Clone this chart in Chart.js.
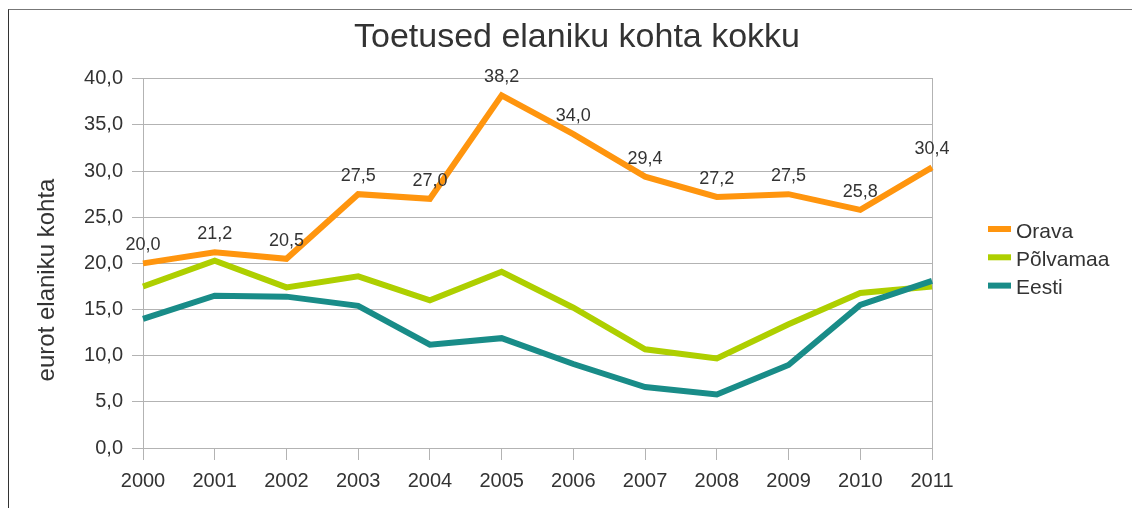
<!DOCTYPE html>
<html>
<head>
<meta charset="utf-8">
<script src="https://cdn.jsdelivr.net/npm/chart.js@4"></script>
<style>
html,body{margin:0;padding:0;background:#fff;}
#wrap{position:relative;width:1132px;height:508px;overflow:hidden;}
#frame{position:absolute;left:8px;top:9px;width:1200px;height:600px;border-left:1px solid #333;border-top:1px solid #777;}
canvas{position:absolute;left:0;top:0;}
</style>
</head>
<body>
<div id="wrap">
<div id="frame"></div>
<canvas id="chart" width="1132" height="508"></canvas>
</div>
<script>
const years = ["2000","2001","2002","2003","2004","2005","2006","2007","2008","2009","2010","2011"];
const orava = [20.0,21.2,20.5,27.5,27.0,38.2,34.0,29.4,27.2,27.5,25.8,30.4];
const polvamaa = [17.5,20.3,17.4,18.6,16.0,19.1,15.2,10.7,9.7,13.4,16.8,17.5];
const eesti = [14.0,16.5,16.4,15.4,11.2,11.9,9.1,6.6,5.8,9.0,15.5,18.1];
const yTicks = [0,5,10,15,20,25,30,35,40];

const FONT = "'Liberation Sans', Arial, sans-serif";
const TXT = "#333333";
const GRID = "#b3b3b3";

function comma(v){
return v.toFixed(1).replace(".", ",");
}

// labels above Orava points, y-axis title and legend on the right
const extras = {
id:"extras",
afterDatasetsDraw(chart){
const ctx = chart.ctx;
ctx.save();
ctx.fillStyle = TXT;
ctx.font = "18px " + FONT;
ctx.textAlign = "center";
ctx.textBaseline = "middle";
chart.getDatasetMeta(0).data.forEach((pt, i) => {
ctx.fillText(comma(orava[i]), pt.x, pt.y - 18);
});
ctx.restore();
},
afterDraw(chart){
const ctx = chart.ctx;
ctx.save();
ctx.fillStyle = TXT;
ctx.font = "24px " + FONT;
ctx.textAlign = "center";
ctx.textBaseline = "middle";
ctx.translate(47, 280);
ctx.rotate(-Math.PI / 2);
ctx.fillText("eurot elaniku kohta", 0, 0);
ctx.restore();

ctx.save();
ctx.font = "21px " + FONT;
ctx.textBaseline = "middle";
ctx.textAlign = "left";
chart.data.datasets.forEach((ds, i) => {
const y = 229 + i * 28.3;
ctx.fillStyle = ds.borderColor;
ctx.fillRect(988, y - 3, 23, 6);
ctx.fillStyle = TXT;
ctx.fillText(ds.label, 1016, y + 3);
});
ctx.restore();
}
};

new Chart(
document.getElementById("chart"),
{
type:"line",
data:{
labels:years,
datasets:[
{label:"Orava", data:orava, borderColor:"#ff950e", order:0},
{label:"Põlvamaa", data:polvamaa, borderColor:"#aecf00", order:2},
{label:"Eesti", data:eesti, borderColor:"#198c88", order:1}
]
},
options:{
responsive:false,
animation:false,
layout:{padding:{left:22, right:0, top:0, bottom:0}},
elements:{
line:{borderWidth:6, tension:0, fill:false},
point:{radius:0, hoverRadius:0}
},
plugins:{
legend:{display:false},
tooltip:{enabled:false},
title:{
display:true,
text:"Toetused elaniku kohta kokku",
color:TXT,
font:{family:FONT, size:34, weight:"normal", lineHeight:1.2},
padding:{top:17, bottom:21}
}
},
scales:{
x:{
offset:false,
grid:{drawOnChartArea:false, drawTicks:true, tickLength:12, color:GRID},
border:{color:GRID},
ticks:{color:TXT, font:{family:FONT, size:20}, padding:9, maxRotation:0, autoSkip:false},
afterFit(s){ s.height = 60; }
},
y:{
min:0,
max:40,
grid:{color:GRID, tickLength:11},
border:{color:GRID},
afterBuildTicks(s){ s.ticks = yTicks.map(v => ({value:v})); },
ticks:{color:TXT, font:{family:FONT, size:20}, padding:9, callback:(v) => comma(v)},
afterFit(s){ s.width = 121; }
},
y2:{
position:"right",
min:0,
max:40,
grid:{display:false},
border:{display:true, color:GRID},
ticks:{display:false},
afterFit(s){ s.width = 200; }
}
}
},
plugins:[extras]
});
</script>
</body>
</html>
